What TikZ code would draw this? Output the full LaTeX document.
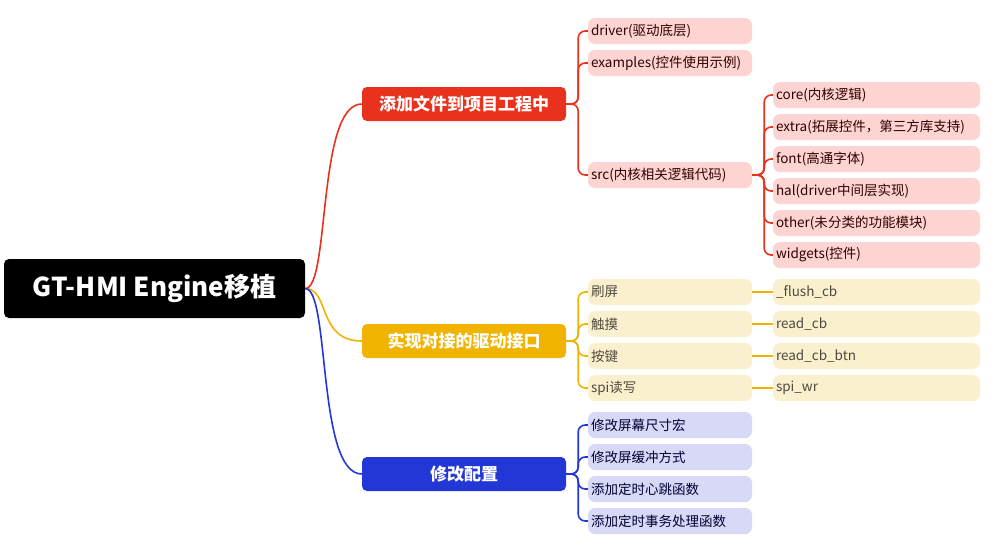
\documentclass[tikz,border=0pt]{standalone}
\usepackage{fontspec}
\setmainfont{Noto Sans CJK SC}
\usetikzlibrary{positioning}
\definecolor{redB}{HTML}{E8321E}
\definecolor{yelB}{HTML}{F0B400}
\definecolor{bluB}{HTML}{2337D6}
\definecolor{redL}{HTML}{FCD5D2}
\definecolor{yelL}{HTML}{FBF0CE}
\definecolor{bluL}{HTML}{D7D9F6}
\tikzset{
    rootnode/.style = {rectangle, fill=black, rounded corners=5pt, minimum width=301pt, minimum height=59pt,
      text=white, font=\fontsize{26}{30}\selectfont\bfseries},
    branchnode/.style = {rectangle, rounded corners=5pt, minimum width=204pt, minimum height=34pt,
      text=white, font=\fontsize{17}{20}\selectfont\bfseries},
    leafnode/.style = {rectangle, rounded corners=7pt, minimum width=164pt, minimum height=26pt,
      text width=158pt, inner xsep=3pt, align=left, font=\fontsize{13.5}{15}\selectfont},
    subnode/.style = {leafnode, minimum width=207pt, text width=201pt},
    link/.style = {line width=1.6pt, rounded corners=7pt}
}
\newcommand{\leaves}[3]{% branch, colour, list of leaf names
  \foreach \c in {#3} {\draw[link, #2] (#1.east) -- ++(12pt,0) |- (\c.west);}}
\begin{document}
\begin{tikzpicture}[x=1pt, y=-1pt]
    \useasboundingbox (0,0) rectangle (998,544);
    \node [name=root, rootnode] at (154.5,288.5) {GT-HMI Engine移植};

    % branches
    \node [name=add, branchnode, fill=redB] at (464,104) {添加文件到项目工程中};
    \node [name=drv, branchnode, fill=yelB] at (464,341) {实现对接的驱动接口};
    \node [name=cfg, branchnode, fill=bluB] at (464,474) {修改配置};
    \foreach \b/\c in {add/redB, drv/yelB, cfg/bluB}
      \draw[line width=1.6pt, \c] (root.east) .. controls +(25,0) and +(-45,0) .. (\b.west);

    % first branch
    \begin{scope}[every node/.append style={fill=redL, text=black!80!red}]
      \node [name=driver, leafnode] at (670,31) {driver(驱动底层)};
      \node [name=examples, leafnode] at (670,63) {examples(控件使用示例)};
      \node [name=src, leafnode] at (670,175) {src(内核相关逻辑代码)};
      \node [name=core, subnode] at (876.5,95) {core(内核逻辑)};
      \node [name=extra, subnode] at (876.5,127) {extra(拓展控件，第三方库支持)};
      \node [name=font, subnode] at (876.5,159) {font(高通字体)};
      \node [name=hal, subnode] at (876.5,191) {hal(driver中间层实现)};
      \node [name=other, subnode] at (876.5,223) {other(未分类的功能模块)};
      \node [name=widgets, subnode] at (876.5,255) {widgets(控件)};
    \end{scope}
    \leaves{add}{redB}{driver, examples, src}
    \leaves{src}{redB}{core, extra, font, hal, other, widgets}

    % second branch
    \begin{scope}[every node/.append style={fill=yelL, text=black!80!yellow}]
      \node [name=flush, leafnode] at (670,292) {刷屏};
      \node [name=touch, leafnode] at (670,324) {触摸};
      \node [name=key, leafnode] at (670,356) {按键};
      \node [name=spi, leafnode] at (670,388) {spi读写};
      \node [name=flushcb, subnode] at (876.5,292) {\_flush\_cb};
      \node [name=readcb, subnode] at (876.5,324) {read\_cb};
      \node [name=readbtn, subnode] at (876.5,356) {read\_cb\_btn};
      \node [name=spiwr, subnode] at (876.5,388) {spi\_wr};
    \end{scope}
    \leaves{drv}{yelB}{flush, touch, key, spi}
    \foreach \a/\b in {flush/flushcb, touch/readcb, key/readbtn, spi/spiwr}
      \draw[link, yelB] (\a) -- (\b);

    % third branch
    \begin{scope}[every node/.append style={fill=bluL, text=black!80!blue}]
      \node [name=size, leafnode] at (670,425) {修改屏幕尺寸宏};
      \node [name=buf, leafnode] at (670,457) {修改屏缓冲方式};
      \node [name=tick, leafnode] at (670,489) {添加定时心跳函数};
      \node [name=task, leafnode] at (670,521) {添加定时事务处理函数};
    \end{scope}
    \leaves{cfg}{bluB}{size, buf, tick, task}
\end{tikzpicture}
\end{document}
